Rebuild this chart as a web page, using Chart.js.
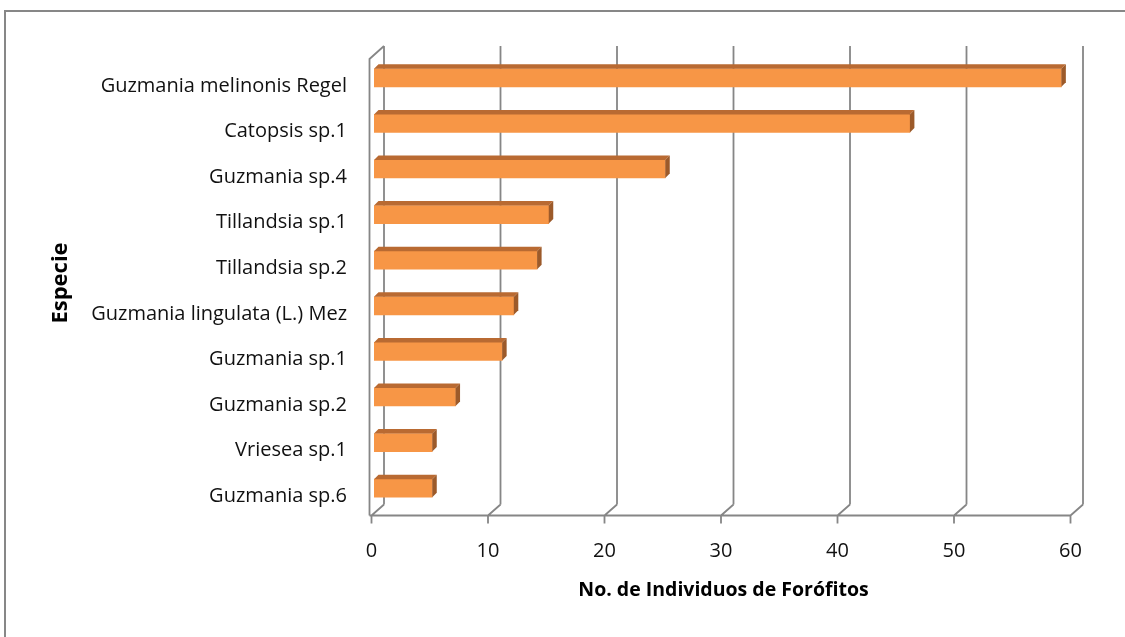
<!DOCTYPE html>
<html>
<head>
<meta charset="utf-8">
<script src="https://cdn.jsdelivr.net/npm/chart.js@4.4.1/dist/chart.umd.min.js"></script>
<style>
  html, body { margin: 0; padding: 0; background: #fff; }
</style>
</head>
<body>
<canvas id="myChart" width="1125" height="637"></canvas>
<script>
// data
var species = ['Guzmania melinonis Regel', 'Catopsis sp.1', 'Guzmania sp.4', 'Tillandsia sp.1', 'Tillandsia sp.2',
    'Guzmania lingulata (L.) Mez', 'Guzmania sp.1', 'Guzmania sp.2', 'Vriesea sp.1', 'Guzmania sp.6'];
var individuos = [59, 46, 25, 15, 14, 12, 11, 7, 5, 5];
var xTicks = [0, 10, 20, 30, 40, 50, 60];

var FONT = '"Open Sans", "Noto Sans", sans-serif';
var GRID = '#868686';
var BACK = { dx: 10, dy: -7 };     // back wall offset from bar plane
var FRONT = { dx: -2.5, dy: 4.5 }; // front floor edge offset from bar plane
var DEPTH = 4.5;

// draws the fake 3D walls, floor and bar sides
var fake3d = {
    id: 'fake3d',
    beforeDraw: function (chart) {
        var c = chart.ctx;
        c.save();
        c.strokeStyle = '#878787';
        c.lineWidth = 2;
        c.strokeRect(5, 11, 1200, 700);
        c.restore();
    },
    beforeDatasetsDraw: function (chart) {
        var c = chart.ctx, xs = chart.scales.x, a = chart.chartArea;
        var backTop = a.top - 9, backBottom = a.bottom + FRONT.dy - 11;
        var frontY = a.bottom + FRONT.dy;
        c.save();
        c.strokeStyle = GRID;
        c.lineWidth = 1.8;
        c.beginPath();
        xTicks.forEach(function (v) {
            var bx = xs.getPixelForValue(v) + BACK.dx;
            var fx = xs.getPixelForValue(v) + FRONT.dx;
            // back wall gridline
            c.moveTo(bx, backTop);
            c.lineTo(bx, backBottom);
            // floor diagonal
            c.moveTo(fx, frontY);
            c.lineTo(bx, backBottom);
            // tick mark
            c.moveTo(fx, frontY);
            c.lineTo(fx, frontY + 8);
        });
        // front floor edge
        var x0 = xs.getPixelForValue(0) + FRONT.dx;
        var x1 = xs.getPixelForValue(60) + FRONT.dx;
        c.moveTo(x0 - 2, frontY);
        c.lineTo(x1, frontY);
        // left side wall
        c.moveTo(x0 - 2, frontY);
        c.lineTo(x0 - 2, backTop + 13);
        c.lineTo(xs.getPixelForValue(0) + BACK.dx, backTop);
        c.stroke();
        c.restore();
    },
    afterDatasetsDraw: function (chart) {
        var c = chart.ctx;
        var meta = chart.getDatasetMeta(0);
        c.save();
        meta.data.forEach(function (bar) {
            var p = bar.getProps(['x', 'y', 'base', 'height'], true);
            var top = p.y - p.height / 2, bot = p.y + p.height / 2;
            // top face
            c.fillStyle = '#b96a32';
            c.beginPath();
            c.moveTo(p.base, top);
            c.lineTo(p.x, top);
            c.lineTo(p.x + DEPTH, top - DEPTH);
            c.lineTo(p.base + DEPTH, top - DEPTH);
            c.closePath();
            c.fill();
            // right face
            c.fillStyle = '#9c5a2a';
            c.beginPath();
            c.moveTo(p.x, top);
            c.lineTo(p.x + DEPTH, top - DEPTH);
            c.lineTo(p.x + DEPTH, bot - DEPTH);
            c.lineTo(p.x, bot);
            c.closePath();
            c.fill();
        });
        c.restore();
    }
};

var ctx = document.getElementById('myChart').getContext('2d');
var myChart = new Chart(ctx, {
    type: 'bar',
    data: {
        labels: species,
        datasets: [{
            label: 'No. de Individuos de Forófitos',
            data: individuos,
            backgroundColor: '#f79646',
            borderWidth: 0,
            barThickness: 18
        }]
    },
    plugins: [fake3d],
    options: {
        indexAxis: 'y',
        responsive: false,
        animation: false,
        layout: {
            padding: { top: 55, right: 52, left: 0, bottom: 0 }
        },
        plugins: {
            legend: { display: false },
            tooltip: { enabled: false }
        },
        scales: {
            x: {
                min: 0,
                max: 60,
                afterBuildTicks: function (s) {
                    s.ticks = xTicks.map(function (v) { return { value: v }; });
                },
                afterFit: function (s) { s.height = 126; },
                grid: { display: false },
                border: { display: false },
                ticks: {
                    padding: 20,
                    labelOffset: -2.5,
                    color: '#111',
                    font: { family: FONT, size: 20 }
                },
                title: {
                    display: true,
                    text: 'No. de Individuos de Forófitos',
                    color: '#000',
                    padding: 35,
                    font: { family: FONT, size: 19.5, weight: 'bold' }
                }
            },
            y: {
                afterFit: function (s) { s.width = 374; },
                grid: { display: false },
                border: { display: false },
                ticks: {
                    padding: 19,
                    labelOffset: 8,
                    color: '#111',
                    font: { family: FONT, size: 20 }
                },
                title: {
                    display: true,
                    text: 'Especie',
                    color: '#000',
                    padding: { top: 48, bottom: 0 },
                    font: { family: FONT, size: 22, weight: 'bold' }
                }
            }
        }
    }
});
</script>
</body>
</html>
